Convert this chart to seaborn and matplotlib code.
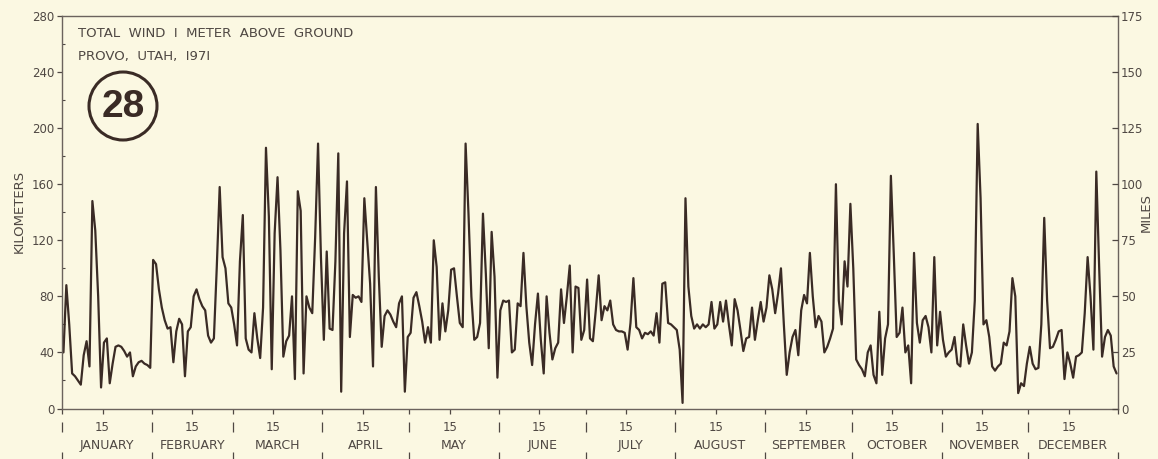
#!/usr/bin/env python3
"""
Daily total wind 1 m above ground, Provo, Utah, 1971 (figure 28).
"""

import numpy as np
import pandas as pd
import seaborn as sns
import matplotlib.pyplot as plt
from matplotlib.patches import Ellipse
from matplotlib.ticker import MultipleLocator

MONTHS = ["JANUARY", "FEBRUARY", "MARCH", "APRIL", "MAY", "JUNE", "JULY",
          "AUGUST", "SEPTEMBER", "OCTOBER", "NOVEMBER", "DECEMBER"]
MONTH_DAYS = [31, 28, 31, 30, 31, 30, 31, 31, 30, 31, 30, 31]

# daily totals, kilometers
jan = [40, 88, 60, 25, 23, 20, 17, 38, 48, 30, 148, 127, 80, 15, 47, 50, 18, 32, 44, 45,
       44, 41, 37, 40, 23, 30, 33, 34, 32, 31, 29]
feb = [106, 103, 85, 72, 63, 57, 58, 33, 55, 64, 60, 23, 55, 58, 80, 85, 78, 73, 70, 52,
       47, 50, 101, 158, 108, 100, 75, 72]
mar = [60, 45, 105, 138, 50, 42, 40, 68, 50, 36, 72, 186, 137, 28, 125, 165, 113, 37, 48, 52,
       80, 21, 155, 141, 25, 80, 72, 68, 122, 189, 108]
apr = [49, 112, 57, 56, 105, 182, 12, 125, 162, 51, 81, 79, 80, 76, 150, 120, 89, 30, 158, 94,
       44, 66, 70, 67, 62, 58, 75, 80, 12, 51]
may = [54, 79, 83, 73, 62, 47, 58, 47, 120, 101, 49, 75, 55, 70, 99, 100, 80, 61, 58, 189,
       139, 80, 49, 51, 61, 139, 96, 43, 126, 94, 22]
jun = [70, 77, 76, 77, 40, 42, 75, 73, 111, 73, 47, 31, 60, 82, 49, 25, 80, 54, 35, 43,
       47, 85, 61, 80, 102, 40, 87, 86, 49, 56]
jul = [92, 50, 48, 70, 95, 63, 73, 70, 77, 60, 56, 55, 55, 54, 42, 61, 93, 58, 56, 50,
       54, 53, 55, 52, 68, 47, 89, 90, 61, 60, 58]
aug = [56, 42, 4, 150, 87, 66, 57, 60, 57, 60, 58, 60, 76, 57, 60, 76, 62, 77, 60, 45,
       78, 70, 56, 41, 50, 51, 72, 49, 63, 76, 62]
sep = [72, 95, 85, 68, 82, 100, 60, 24, 40, 51, 56, 38, 70, 81, 75, 111, 80, 58, 66, 62,
       40, 44, 50, 57, 160, 77, 60, 105, 87, 146]
oct_ = [100, 35, 31, 28, 23, 40, 45, 24, 18, 69, 24, 50, 60, 166, 110, 51, 54, 72, 40, 45,
        18, 111, 61, 47, 63, 66, 58, 40, 108, 45, 69]
nov = [49, 37, 40, 42, 51, 32, 30, 60, 45, 32, 40, 77, 203, 150, 60, 63, 51, 30, 27, 30,
       32, 47, 45, 55, 93, 80, 11, 18, 16, 32]
dec = [44, 32, 28, 29, 60, 136, 77, 43, 44, 49, 55, 56, 21, 40, 32, 22, 37, 38, 40, 68,
       108, 80, 42, 169, 100, 37, 51, 56, 52, 30, 25]

KM_TICKS = [0, 40, 80, 120, 160, 200, 240, 280]
MILE_TICKS = [0, 25, 50, 75, 100, 125, 150, 175]

PAPER = "#fbf8e2"
INK = "#3a2b25"
TEXT = "#4f4843"
W, H = 1158, 459


def yfrac(px, bottom=408.5, top=16.0):
    """pixel row -> axes fraction (negative below the frame)"""
    return (bottom - px) / (bottom - top)


def main():
    sns.set_theme(style="ticks")
    plt.rcParams["font.family"] = ["DejaVu Sans"]

    km = jan + feb + mar + apr + may + jun + jul + aug + sep + oct_ + nov + dec
    # each daily total sits in the middle of its day
    df = pd.DataFrame({"day": np.arange(len(km)) + 0.5, "km": km})

    starts = np.concatenate([[0], np.cumsum(MONTH_DAYS)])
    fifteenth = starts[:-1] + 14
    middle = starts[:-1] + np.array(MONTH_DAYS) / 2

    fig = plt.figure(figsize=(W / 100, H / 100), dpi=100, facecolor=PAPER)
    ax = fig.add_axes([62 / W, 1 - 408.5 / H, (1118 - 62) / W, (408.5 - 16) / H])
    ax.set_facecolor(PAPER)

    sns.lineplot(data=df, x="day", y="km", ax=ax, color=INK, linewidth=1.6)

    ax.set_xlim(0, 365)
    ax.set_ylim(0, 280)
    ax.set_yticks(KM_TICKS)
    ax.yaxis.set_minor_locator(MultipleLocator(20))
    ax.tick_params(axis="y", which="major", direction="out", length=3.6, width=0.9,
                   colors=TEXT, labelsize=8.5, pad=2)
    ax.tick_params(axis="y", which="minor", direction="in", length=2.5, width=0.8,
                   colors=TEXT)
    ax.set_xticks(np.sort(np.concatenate([starts, fifteenth])))
    ax.set_xticklabels([])
    ax.tick_params(axis="x", direction="out", length=3.6, width=0.9, colors=TEXT)
    ax.set_xlabel("")
    ax.set_ylabel("")
    for side in ax.spines.values():
        side.set_color("#6b635d")
        side.set_linewidth(1.0)

    # right-hand scale in miles
    ax2 = ax.twinx()
    ax2.set_ylim(0, 175)
    ax2.set_yticks(MILE_TICKS)
    ax2.tick_params(axis="y", direction="in", length=4.5, width=0.9, colors=TEXT,
                    labelsize=8.5, pad=2)
    for side in ax2.spines.values():
        side.set_visible(False)

    # calendar strip under the frame
    trans = ax.get_xaxis_transform()
    ax.vlines(starts[:-1], yfrac(422), yfrac(432), transform=trans, colors=TEXT,
              linewidth=0.9, clip_on=False)
    ax.vlines(starts, yfrac(452), yfrac(462), transform=trans, colors=TEXT,
              linewidth=0.9, clip_on=False)
    for x in fifteenth:
        ax.text(x, yfrac(431), "15", transform=trans, ha="center", va="baseline",
                fontsize=8.5, color=TEXT)
    for x, name in zip(middle, MONTHS):
        ax.text(x, yfrac(449), name, transform=trans, ha="center", va="baseline",
                fontsize=9, color=TEXT)

    fig.text(19 / W, 1 - 211 / H, "KILOMETERS", rotation=90, ha="center", va="center",
             fontsize=9.5, color=TEXT)
    fig.text(1146 / W, 1 - 213 / H, "MILES", rotation=90, ha="center", va="center",
             fontsize=9.5, color=TEXT)

    fig.text(78 / W, 1 - 37 / H, "TOTAL  WIND  I  METER  ABOVE  GROUND", ha="left",
             va="baseline", fontsize=9.5, color=TEXT)
    fig.text(78 / W, 1 - 60 / H, "PROVO,  UTAH,  I97I", ha="left", va="baseline",
             fontsize=9.5, color=TEXT)

    # plate number in a ring
    fig.add_artist(Ellipse((123 / W, 1 - 106 / H), 68 / W, 68 / H,
                           transform=fig.transFigure, fill=False, edgecolor=INK,
                           linewidth=2.2))
    fig.text(123 / W, 1 - 117 / H, "28", ha="center", va="baseline", color=INK,
             weight="bold", family=["Liberation Sans", "DejaVu Sans"], fontsize=28)

    fig.savefig("out.png", dpi=100, facecolor=PAPER)


if __name__ == "__main__":
    main()
